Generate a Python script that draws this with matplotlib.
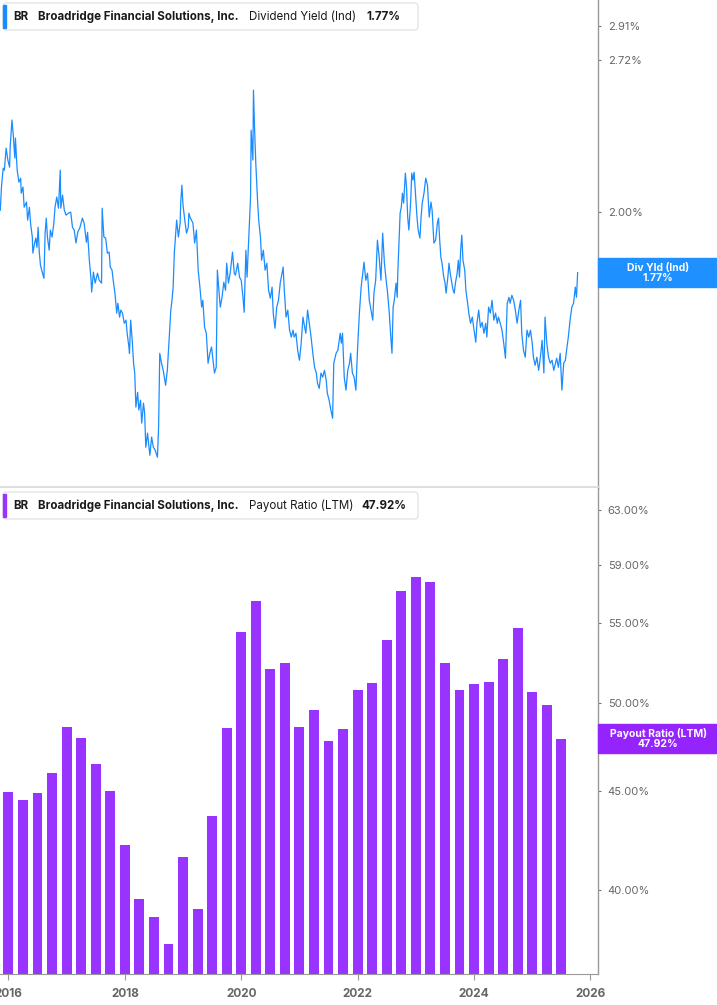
import matplotlib
matplotlib.use('Agg')
import matplotlib.pyplot as plt
from matplotlib.patches import Rectangle, FancyBboxPatch
from matplotlib.ticker import NullLocator

# --- data ---
# Dividend yield (indicated), %, sampled along the daily line (decimal years)
div_dates = [
    2015.86, 2015.88, 2015.91, 2015.93, 2015.96, 2015.99, 2016.02, 2016.03, 2016.06, 2016.08,
    2016.11, 2016.12, 2016.15, 2016.18, 2016.21, 2016.22, 2016.25, 2016.27, 2016.31, 2016.33,
    2016.36, 2016.38, 2016.41, 2016.42, 2016.45, 2016.47, 2016.49, 2016.51, 2016.53, 2016.55,
    2016.58, 2016.61, 2016.63, 2016.65, 2016.67, 2016.70, 2016.72, 2016.75, 2016.78, 2016.80,
    2016.83, 2016.86, 2016.89, 2016.90, 2016.93, 2016.96, 2016.99, 2017.03, 2017.07, 2017.10,
    2017.13, 2017.16, 2017.19, 2017.23, 2017.27, 2017.30, 2017.34, 2017.36, 2017.39, 2017.42,
    2017.43, 2017.46, 2017.49, 2017.53, 2017.56, 2017.60, 2017.61, 2017.64, 2017.67, 2017.70,
    2017.73, 2017.75, 2017.78, 2017.80, 2017.83, 2017.86, 2017.88, 2017.91, 2017.93, 2017.96,
    2017.99, 2018.02, 2018.04, 2018.07, 2018.08, 2018.10, 2018.13, 2018.15, 2018.17, 2018.19,
    2018.22, 2018.24, 2018.27, 2018.29, 2018.32, 2018.34, 2018.36, 2018.39, 2018.43, 2018.46,
    2018.49, 2018.52, 2018.56, 2018.58, 2018.60, 2018.63, 2018.66, 2018.70, 2018.73, 2018.76,
    2018.79, 2018.81, 2018.83, 2018.85, 2018.89, 2018.92, 2018.95, 2018.96, 2018.98, 2019.00,
    2019.03, 2019.06, 2019.09, 2019.10, 2019.12, 2019.17, 2019.20, 2019.23, 2019.26, 2019.29,
    2019.32, 2019.34, 2019.37, 2019.40, 2019.43, 2019.46, 2019.49, 2019.52, 2019.54, 2019.57,
    2019.59, 2019.62, 2019.64, 2019.67, 2019.70, 2019.73, 2019.75, 2019.78, 2019.81, 2019.85,
    2019.88, 2019.90, 2019.94, 2019.97, 2020.00, 2020.03, 2020.05, 2020.08, 2020.10, 2020.13,
    2020.16, 2020.17, 2020.20, 2020.21, 2020.23, 2020.25, 2020.28, 2020.30, 2020.33, 2020.35,
    2020.38, 2020.41, 2020.44, 2020.47, 2020.50, 2020.53, 2020.55, 2020.58, 2020.61, 2020.64,
    2020.67, 2020.70, 2020.72, 2020.74, 2020.77, 2020.80, 2020.83, 2020.86, 2020.89, 2020.91,
    2020.94, 2020.97, 2021.00, 2021.03, 2021.06, 2021.09, 2021.11, 2021.14, 2021.17, 2021.20,
    2021.23, 2021.26, 2021.29, 2021.31, 2021.34, 2021.37, 2021.40, 2021.43, 2021.46, 2021.48,
    2021.51, 2021.54, 2021.57, 2021.59, 2021.63, 2021.66, 2021.70, 2021.72, 2021.74, 2021.77,
    2021.80, 2021.83, 2021.86, 2021.88, 2021.91, 2021.94, 2021.97, 2022.00, 2022.03, 2022.06,
    2022.08, 2022.11, 2022.14, 2022.17, 2022.20, 2022.23, 2022.26, 2022.28, 2022.31, 2022.34,
    2022.37, 2022.40, 2022.43, 2022.46, 2022.49, 2022.51, 2022.54, 2022.57, 2022.59, 2022.61,
    2022.63, 2022.66, 2022.68, 2022.69, 2022.71, 2022.73, 2022.75, 2022.77, 2022.79, 2022.82,
    2022.84, 2022.86, 2022.88, 2022.91, 2022.93, 2022.95, 2022.97, 2023.00, 2023.02, 2023.04,
    2023.07, 2023.09, 2023.11, 2023.14, 2023.17, 2023.20, 2023.23, 2023.26, 2023.28, 2023.31,
    2023.34, 2023.37, 2023.39, 2023.41, 2023.43, 2023.45, 2023.48, 2023.50, 2023.52, 2023.55,
    2023.57, 2023.59, 2023.61, 2023.64, 2023.66, 2023.68, 2023.71, 2023.73, 2023.75, 2023.77,
    2023.79, 2023.81, 2023.84, 2023.86, 2023.89, 2023.91, 2023.94, 2023.97, 2024.00, 2024.03,
    2024.05, 2024.08, 2024.11, 2024.14, 2024.17, 2024.20, 2024.22, 2024.25, 2024.28, 2024.31,
    2024.34, 2024.37, 2024.40, 2024.42, 2024.45, 2024.48, 2024.51, 2024.54, 2024.57, 2024.60,
    2024.62, 2024.65, 2024.68, 2024.71, 2024.74, 2024.77, 2024.80, 2024.82, 2024.85, 2024.88,
    2024.91, 2024.94, 2024.97, 2025.00, 2025.02, 2025.05, 2025.08, 2025.11, 2025.14, 2025.17,
    2025.20, 2025.22, 2025.25, 2025.28, 2025.31, 2025.34, 2025.37, 2025.40, 2025.42, 2025.45,
    2025.48, 2025.51, 2025.54, 2025.57, 2025.59, 2025.62, 2025.65, 2025.68, 2025.71, 2025.74,
    2025.76, 2025.78,
]
div_yield = [
    2.008, 2.104, 2.186, 2.177, 2.276, 2.222, 2.190, 2.281, 2.409, 2.346,
    2.231, 2.323, 2.177, 2.125, 2.142, 2.078, 2.104, 2.020, 2.041, 1.968,
    2.020, 1.956, 1.902, 1.841, 1.879, 1.898, 1.863, 1.940, 1.845, 1.797,
    1.772, 1.750, 1.917, 1.976, 1.902, 1.852, 1.929, 1.902, 1.956, 2.020,
    2.062, 2.016, 2.177, 2.016, 2.070, 2.008, 1.988, 1.996, 2.000, 1.940,
    1.929, 1.879, 1.920, 1.940, 1.976, 1.956, 1.882, 1.920, 1.815, 1.743,
    1.702, 1.772, 1.733, 1.768, 1.743, 1.733, 2.016, 1.902, 1.898, 1.841,
    1.845, 1.790, 1.779, 1.743, 1.698, 1.631, 1.664, 1.618, 1.641, 1.631,
    1.598, 1.608, 1.566, 1.523, 1.504, 1.608, 1.535, 1.474, 1.445, 1.349,
    1.390, 1.341, 1.368, 1.306, 1.360, 1.333, 1.244, 1.280, 1.224, 1.270,
    1.244, 1.237, 1.219, 1.295, 1.504, 1.474, 1.453, 1.410, 1.453, 1.544,
    1.641, 1.674, 1.719, 1.841, 1.968, 1.902, 1.956, 2.037, 2.112, 2.028,
    1.968, 1.917, 1.940, 1.996, 1.980, 1.956, 1.879, 1.929, 1.779, 1.719,
    1.651, 1.674, 1.585, 1.566, 1.474, 1.504, 1.523, 1.474, 1.445, 1.462,
    1.779, 1.698, 1.651, 1.684, 1.736, 1.708, 1.804, 1.733, 1.768, 1.845,
    1.768, 1.761, 1.804, 1.754, 1.743, 1.684, 1.634, 1.852, 1.754, 1.902,
    2.062, 2.360, 2.222, 2.559, 2.360, 2.208, 2.049, 1.968, 1.902, 1.815,
    1.852, 1.779, 1.804, 1.708, 1.681, 1.719, 1.631, 1.582, 1.651, 1.674,
    1.733, 1.768, 1.790, 1.708, 1.618, 1.641, 1.576, 1.554, 1.576, 1.554,
    1.566, 1.513, 1.483, 1.535, 1.618, 1.585, 1.566, 1.641, 1.598, 1.554,
    1.504, 1.462, 1.445, 1.416, 1.401, 1.445, 1.433, 1.453, 1.424, 1.387,
    1.368, 1.341, 1.319, 1.474, 1.504, 1.513, 1.566, 1.535, 1.566, 1.433,
    1.396, 1.453, 1.474, 1.504, 1.445, 1.433, 1.396, 1.523, 1.631, 1.719,
    1.754, 1.808, 1.743, 1.768, 1.674, 1.641, 1.608, 1.698, 1.743, 1.890,
    1.826, 1.743, 1.917, 1.804, 1.743, 1.708, 1.641, 1.554, 1.504, 1.651,
    1.674, 1.733, 1.684, 1.768, 1.879, 1.996, 2.020, 2.078, 2.037, 2.164,
    2.104, 1.980, 1.929, 2.037, 2.164, 2.134, 2.168, 2.049, 1.980, 1.929,
    1.898, 1.980, 2.037, 2.078, 2.142, 2.112, 1.980, 2.041, 2.008, 1.879,
    1.890, 1.956, 1.976, 1.890, 1.826, 1.804, 1.754, 1.736, 1.698, 1.754,
    1.804, 1.768, 1.743, 1.708, 1.698, 1.733, 1.768, 1.815, 1.754, 1.852,
    1.909, 1.815, 1.779, 1.708, 1.664, 1.631, 1.598, 1.618, 1.576, 1.538,
    1.598, 1.641, 1.585, 1.601, 1.566, 1.598, 1.554, 1.651, 1.631, 1.674,
    1.608, 1.631, 1.598, 1.618, 1.598, 1.576, 1.535, 1.489, 1.664, 1.684,
    1.664, 1.691, 1.674, 1.641, 1.598, 1.641, 1.674, 1.566, 1.513, 1.492,
    1.576, 1.554, 1.576, 1.535, 1.492, 1.468, 1.492, 1.453, 1.492, 1.544,
    1.445, 1.618, 1.535, 1.492, 1.474, 1.483, 1.453, 1.474, 1.489, 1.462,
    1.504, 1.396, 1.474, 1.483, 1.513, 1.554, 1.608, 1.651, 1.664, 1.719,
    1.684, 1.770,
]

# Payout ratio (LTM), %, quarterly
payout_dates = [2016 + q * 0.25 for q in range(39)]
payout = [
    44.95, 44.5, 44.9, 46.0, 48.6, 47.95, 46.5, 45.0,
    42.2, 39.55, 38.7, 37.5, 41.6, 39.1, 43.7, 48.5,
    54.4, 56.5, 52.1, 52.45, 48.6, 49.6, 47.8, 48.45,
    50.8, 51.2, 53.9, 57.2, 58.1, 57.8, 52.45, 50.8,
    51.15, 51.3, 52.7, 54.7, 50.65, 49.9, 47.92,
]

div_ticks = [2.00, 2.72, 2.91]
payout_ticks = [40, 45, 50, 55, 59, 63]
year_ticks = [2016, 2018, 2020, 2022, 2024, 2026]

BLUE = '#1a8cff'
PURPLE = '#9933ff'

plt.rcParams['font.family'] = ['Inter', 'DejaVu Sans']

W, H = 717, 1005
fig = plt.figure(figsize=(W / 100, H / 100), dpi=100)
ax1 = fig.add_axes([0, 1 - 487 / H, 598 / W, 487 / H])
ax2 = fig.add_axes([0, 1 - 974 / H, 598 / W, 486 / H])

xlim = (2015.855, 2026.13)


def style_right_axis(ax, ticks, labels):
    ax.yaxis.tick_right()
    ax.set_yticks(ticks)
    ax.set_yticklabels(labels)
    ax.yaxis.set_minor_locator(NullLocator())
    ax.tick_params(axis='y', which='major', length=2, width=0.8, color='#777777',
                   pad=5, labelsize=8, labelcolor='#666666')
    for s in ['top', 'left']:
        ax.spines[s].set_visible(False)
    ax.spines['right'].set_color('#999999')
    ax.spines['right'].set_linewidth(1)


# --- top: dividend yield ---
ax1.plot(div_dates, div_yield, color=BLUE, lw=0.9)
ax1.set_yscale('log')
ax1.set_ylim(1.148, 3.07)
ax1.set_xlim(*xlim)
style_right_axis(ax1, div_ticks, [f'{t:.2f}%' for t in div_ticks])
ax1.set_xticks([])
ax1.spines['bottom'].set_color('#dddddd')
ax1.spines['bottom'].set_linewidth(2)

# --- bottom: payout ratio ---
ax2.bar(payout_dates, payout, width=0.17, color=PURPLE, log=True)
ax2.set_yscale('log')
ax2.set_ylim(36.16, 64.66)
ax2.set_xlim(*xlim)
style_right_axis(ax2, payout_ticks, [f'{t:.2f}%' for t in payout_ticks])
ax2.set_xticks(year_ticks)
ax2.set_xticklabels([str(y) for y in year_ticks], fontweight='bold')
ax2.tick_params(axis='x', length=4, width=0.8, color='#999999', pad=6,
                labelsize=8.5, labelcolor='#666666')
ax2.spines['bottom'].set_color('#999999')


def value_tag(ax, val, text, color):
    y = ax.transData.transform((xlim[0], val))[1]
    fig.patches.append(Rectangle((598 / W, (y - 14.5) / H), 119 / W, 29 / H,
                                 transform=fig.transFigure, color=color, zorder=5))
    fig.text(658 / W, y / H, text, ha='center', va='center', color='white',
             fontsize=7.5, fontweight='bold', linespacing=1.0, zorder=6)


value_tag(ax1, div_yield[-1], f'Div Yld (Ind)\n{div_yield[-1]:.2f}%', '#1e90ff')
value_tag(ax2, payout[-1], f'Payout Ratio (LTM)\n{payout[-1]:.2f}%', '#9424fb')


def header(y_top, color, metric, value, value_x):
    fig.patches.append(FancyBboxPatch((3 / W, 1 - (y_top + 27) / H), 415 / W, 27 / H,
                                      boxstyle='round,pad=0,rounding_size=0.004',
                                      transform=fig.transFigure, fc='white',
                                      ec='#e4e4e4', lw=1, zorder=5))
    fig.patches.append(Rectangle((3 / W, 1 - (y_top + 25) / H), 3 / W, 23 / H,
                                 transform=fig.transFigure, color=color, zorder=6))
    yc = 1 - (y_top + 13.5) / H
    kw = dict(va='center', ha='left', fontsize=8.3, color='#1a1a1a', zorder=7)
    fig.text(13 / W, yc, 'BR', fontweight='bold', **kw)
    fig.text(38 / W, yc, 'Broadridge Financial Solutions, Inc.', fontweight='bold', **kw)
    fig.text(249 / W, yc, metric, **kw)
    fig.text(value_x / W, yc, value, fontweight='bold', **kw)


header(3, BLUE, 'Dividend Yield (Ind)', f'{div_yield[-1]:.2f}%', 366)
header(492, PURPLE, 'Payout Ratio (LTM)', f'{payout[-1]:.2f}%', 361)

fig.savefig('out.png', dpi=100)
